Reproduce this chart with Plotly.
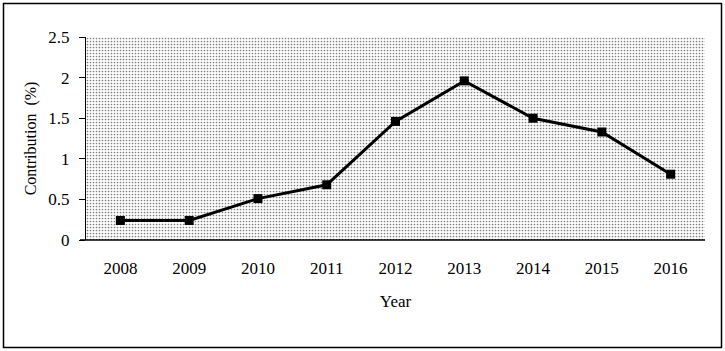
import plotly.graph_objects as go

years = [2008, 2009, 2010, 2011, 2012, 2013, 2014, 2015, 2016]
year_labels = ["2008", "2009", "2010", "2011", "2012", "2013", "2014", "2015", "2016"]
contribution = [0.24, 0.24, 0.51, 0.68, 1.46, 1.96, 1.50, 1.33, 0.81]
y_ticks = [0, 0.5, 1, 1.5, 2, 2.5]
y_ticklabels = ["0", "0.5", "1", "1.5", "2", "2.5"]

W, H = 725, 351
L, R, T, B = 86, 20, 37, 111
x_lo, x_hi = years[0] - 0.5, years[-1] + 0.5

fig = go.Figure()

# dotted background via pattern-filled area spanning the plot
fig.add_trace(go.Scatter(
    x=[x_lo, x_hi, x_hi, x_lo, x_lo], y=[0, 0, 2.5, 2.5, 0],
    mode="none", fill="toself", fillcolor="white",
    fillpattern=dict(shape=".", fgcolor="black", bgcolor="white", size=3, solidity=0.25),
    hoverinfo="skip", showlegend=False,
))

fig.add_trace(go.Scatter(
    x=years, y=contribution, mode="lines+markers",
    line=dict(color="black", width=3),
    marker=dict(symbol="square", size=9, color="black"),
    showlegend=False,
))

font = "Liberation Serif, Times New Roman, serif"
fig.update_layout(
    width=W, height=H,
    margin=dict(l=L, r=R, t=T, b=B),
    paper_bgcolor="white", plot_bgcolor="white",
    font=dict(family=font, size=16, color="black"),
    xaxis=dict(
        range=[x_lo, x_hi], tickvals=years, ticktext=year_labels,
        showgrid=False, zeroline=False,
        showline=False, ticks="", tickfont=dict(size=17), ticklabelstandoff=16,
        title=dict(text="Year", font=dict(size=17), standoff=18),
    ),
    yaxis=dict(
        range=[0, 2.5], tickvals=y_ticks, ticktext=y_ticklabels,
        showgrid=False, zeroline=False, showline=True, linecolor="black", linewidth=1,
        ticks="outside", ticklen=6, tickcolor="black", tickfont=dict(size=17),
        ticklabelstandoff=6,
        title=dict(text="Contribution  (%)", font=dict(size=16), standoff=7),
    ),
    shapes=[
        dict(type="line", xref="paper", yref="paper", x0=-6/619, x1=1, y0=0, y1=0,
             line=dict(color="black", width=1.5)),
        dict(type="rect", xref="paper", yref="paper",
             x0=-(L - 3.5) / 619, x1=1 + (R - 3.5) / 619,
             y0=-(B - 3.5) / 203, y1=1 + (T - 3.5) / 203,
             line=dict(color="black", width=1.5), layer="above"),
    ],
)

fig.write_html("out.html")
